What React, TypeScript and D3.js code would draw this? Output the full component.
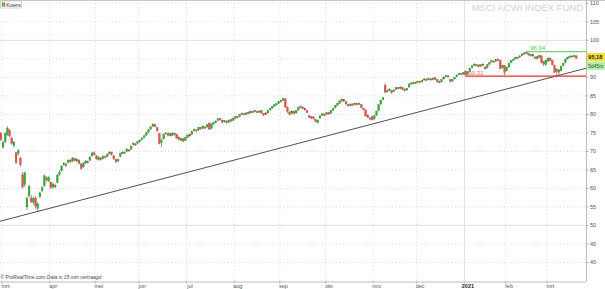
import React from 'react';
import * as d3 from 'd3';

// [open, high, low, close] per trading day, grouped by month
type Candle = [number, number, number, number];

const feb20: Candle[] = [
  [75.8, 76.2, 74.6, 75.0], [74.8, 75.2, 72.8, 73.2],
];
const mar20: Candle[] = [
  [71.2, 72.9, 70.6, 72.4], [72.6, 75.2, 72.2, 74.8], [74.5, 76.8, 74.2, 76.3], [75.6, 76.1, 73.8, 74.2],
  [73.6, 74.0, 71.8, 72.2], [71.6, 72.8, 71.0, 72.5], [69.6, 69.9, 66.6, 67.0], [69.4, 70.6, 68.8, 70.2],
  [68.2, 68.6, 65.9, 66.4], [63.6, 64.4, 59.9, 60.4], [61.0, 64.6, 60.4, 64.2], [55.0, 57.8, 54.2, 57.2],
  [58.0, 61.0, 57.4, 60.6], [57.4, 58.2, 56.0, 56.4], [56.2, 57.8, 55.6, 57.2], [57.4, 57.9, 54.6, 55.2],
  [54.6, 56.4, 53.9, 55.8], [57.8, 59.2, 57.4, 58.8], [59.4, 60.6, 59.0, 60.2], [60.8, 63.8, 60.4, 63.4],
  [62.8, 63.3, 61.9, 62.4], [62.0, 63.4, 61.7, 63.0],
];
const apr20: Candle[] = [
  [61.6, 61.9, 59.8, 60.2], [60.4, 61.6, 60.0, 61.2], [60.8, 61.3, 60.0, 60.4], [61.6, 63.9, 61.4, 63.6],
  [63.8, 64.9, 63.4, 64.4], [64.8, 66.3, 64.5, 66.0], [66.4, 67.1, 66.0, 66.8], [66.2, 66.9, 65.8, 66.6],
  [67.0, 67.9, 66.8, 67.6], [67.6, 67.9, 66.9, 67.2], [67.4, 68.5, 67.1, 68.2], [68.0, 68.3, 67.3, 67.6],
  [67.4, 68.2, 67.1, 67.9], [67.6, 67.9, 66.5, 66.8], [66.6, 66.9, 65.0, 65.4], [65.8, 67.1, 65.6, 66.8],
  [66.9, 67.7, 66.6, 67.4], [67.2, 67.6, 66.7, 67.0], [67.6, 68.7, 67.4, 68.4], [68.8, 69.9, 68.6, 69.6],
  [69.6, 70.0, 68.9, 69.2],
];
const may20: Candle[] = [
  [68.8, 69.0, 67.7, 68.0], [67.8, 68.7, 67.5, 68.4], [68.2, 68.5, 67.5, 67.8], [68.0, 68.9, 67.8, 68.6],
  [68.6, 68.9, 68.1, 68.4], [68.6, 69.5, 68.4, 69.2], [69.4, 70.1, 69.2, 69.8], [69.8, 70.0, 68.9, 69.2],
  [68.8, 69.0, 67.7, 68.0], [67.8, 68.0, 66.8, 67.2], [67.4, 68.1, 67.1, 67.8], [68.6, 69.7, 68.4, 69.4],
  [69.6, 70.1, 69.3, 69.8], [69.8, 70.0, 69.3, 69.6], [70.0, 70.9, 69.8, 70.6], [70.4, 70.7, 69.9, 70.2],
  [70.6, 71.7, 70.4, 71.4], [71.8, 72.5, 71.6, 72.2], [72.0, 72.3, 71.5, 71.8], [72.2, 72.9, 72.0, 72.6],
];
const jun20: Candle[] = [
  [72.6, 73.3, 72.4, 73.0], [73.2, 73.9, 73.0, 73.6], [73.8, 74.5, 73.6, 74.2], [74.4, 75.3, 74.2, 75.0],
  [75.2, 76.1, 75.0, 75.8], [76.0, 76.9, 75.8, 76.6], [76.8, 77.6, 76.6, 77.3], [77.2, 77.5, 76.5, 76.8],
  [76.4, 76.6, 75.3, 75.6], [74.8, 75.0, 71.9, 72.2], [72.4, 73.4, 71.2, 73.0], [73.4, 74.9, 73.2, 74.6],
  [74.8, 75.3, 74.5, 75.0], [74.8, 75.1, 74.1, 74.4], [74.2, 75.0, 74.0, 74.8], [74.9, 75.2, 74.1, 74.4],
  [74.6, 75.1, 74.3, 74.9], [74.6, 74.8, 73.3, 73.6], [73.8, 74.1, 72.9, 73.2], [73.0, 73.7, 72.7, 73.4],
  [73.4, 73.6, 72.5, 72.8], [73.0, 74.0, 72.8, 73.8],
];
const jul20: Candle[] = [
  [73.8, 74.6, 73.6, 74.4], [74.6, 74.8, 73.9, 74.2], [74.6, 75.6, 74.4, 75.4], [75.6, 76.2, 75.4, 76.0],
  [75.8, 76.0, 75.3, 75.6], [75.8, 76.6, 75.6, 76.4], [76.4, 76.6, 75.8, 76.1], [76.2, 77.0, 76.0, 76.8],
  [76.6, 76.8, 76.0, 76.3], [76.6, 77.4, 76.4, 77.2], [77.6, 77.9, 75.8, 76.0], [76.2, 77.6, 76.0, 77.4],
  [77.4, 78.0, 77.2, 77.8], [77.8, 78.4, 77.6, 78.2], [78.4, 79.0, 78.2, 78.8], [78.8, 79.0, 78.3, 78.6],
  [78.4, 78.6, 77.6, 77.9], [78.0, 78.5, 77.8, 78.3], [78.2, 78.4, 77.5, 77.8], [77.9, 78.6, 77.7, 78.4],
  [78.6, 78.8, 77.9, 78.2], [78.4, 79.2, 78.2, 79.0],
];
const aug20: Candle[] = [
  [79.0, 79.6, 78.8, 79.4], [79.4, 79.6, 78.9, 79.2], [79.4, 80.1, 79.2, 79.9], [80.0, 80.5, 79.8, 80.3],
  [80.2, 80.4, 79.7, 79.9], [80.0, 80.6, 79.8, 80.4], [80.6, 80.8, 80.0, 80.2], [80.4, 81.0, 80.2, 80.8],
  [80.8, 81.0, 80.4, 80.6], [80.7, 81.2, 80.5, 81.0], [80.8, 81.0, 80.3, 80.5], [80.6, 81.1, 80.4, 80.9],
  [81.0, 81.2, 80.2, 80.4], [80.2, 80.4, 79.6, 79.8], [80.4, 80.6, 79.8, 80.0], [80.4, 81.2, 80.2, 81.0],
  [81.2, 81.8, 81.0, 81.6], [81.7, 82.3, 81.5, 82.1], [82.2, 82.8, 82.0, 82.6], [82.6, 83.1, 82.4, 82.9],
  [83.0, 83.6, 82.8, 83.4],
];
const sep20: Candle[] = [
  [83.4, 84.0, 83.2, 83.8], [83.8, 84.5, 83.6, 84.3], [84.2, 84.4, 81.8, 82.0], [81.8, 82.2, 80.4, 80.8],
  [80.6, 80.9, 79.7, 80.0], [80.2, 81.1, 80.0, 80.9], [80.8, 81.0, 80.0, 80.3], [80.4, 81.2, 80.2, 81.0],
  [81.2, 82.1, 81.0, 81.9], [82.0, 82.4, 81.8, 82.1], [82.0, 82.2, 81.4, 81.6], [81.6, 81.8, 81.0, 81.2],
  [81.0, 81.2, 80.3, 80.5], [79.6, 79.9, 79.0, 79.2], [79.4, 79.6, 78.8, 79.0], [79.3, 79.5, 78.6, 78.9],
  [78.6, 78.8, 77.8, 78.0], [77.8, 78.6, 77.5, 78.4], [79.0, 79.8, 78.8, 79.6], [79.8, 80.4, 79.6, 80.2],
  [80.0, 80.3, 79.5, 79.8],
];
const oct20: Candle[] = [
  [80.0, 80.6, 79.8, 80.4], [80.5, 80.7, 79.9, 80.1], [80.3, 81.2, 80.1, 81.0], [81.1, 81.8, 80.9, 81.6],
  [81.8, 82.6, 81.6, 82.4], [82.5, 83.1, 82.3, 82.9], [83.0, 83.8, 82.8, 83.6], [83.6, 84.3, 83.4, 84.1],
  [84.0, 84.2, 83.4, 83.6], [83.4, 83.6, 82.6, 82.8], [82.6, 82.8, 82.1, 82.3], [82.4, 83.0, 82.2, 82.8],
  [82.8, 83.0, 82.3, 82.5], [82.6, 83.2, 82.4, 83.0], [82.9, 83.1, 82.4, 82.6], [82.7, 83.2, 82.5, 83.0],
  [82.6, 82.8, 81.6, 81.8], [81.6, 81.8, 81.1, 81.4], [81.2, 81.4, 79.4, 79.6], [79.8, 80.0, 79.0, 79.2],
  [79.0, 79.3, 78.5, 78.8], [79.4, 79.6, 78.3, 78.6],
];
const nov20: Candle[] = [
  [78.8, 79.8, 78.5, 79.6], [79.8, 81.0, 79.6, 80.8], [81.0, 82.8, 80.8, 82.6], [82.8, 84.0, 82.6, 83.8],
  [84.0, 84.7, 83.8, 84.5], [87.8, 88.4, 85.8, 86.0], [86.2, 86.7, 85.9, 86.4], [86.6, 87.1, 86.3, 86.8],
  [86.4, 86.6, 85.6, 85.9], [86.2, 86.9, 86.0, 86.6], [86.8, 87.4, 86.6, 87.2], [87.2, 87.4, 86.8, 87.0],
  [87.0, 87.6, 86.8, 87.4], [87.2, 87.4, 86.6, 86.8], [86.8, 87.0, 86.2, 86.4], [86.6, 87.2, 86.4, 87.0],
  [87.4, 88.4, 87.2, 88.2], [88.2, 88.7, 88.0, 88.5], [88.6, 88.8, 88.1, 88.3], [88.4, 88.8, 88.2, 88.6],
];
const dec20: Candle[] = [
  [88.6, 89.1, 88.4, 88.9], [88.9, 89.1, 88.5, 88.7], [88.8, 89.4, 88.6, 89.2], [89.3, 89.8, 89.1, 89.6],
  [89.5, 89.7, 89.0, 89.2], [89.4, 89.9, 89.2, 89.7], [89.6, 89.8, 89.1, 89.3], [89.4, 90.0, 89.2, 89.8],
  [89.9, 90.1, 89.3, 89.5], [89.4, 89.6, 88.6, 88.8], [88.9, 89.1, 88.4, 88.6], [88.8, 89.6, 88.6, 89.4],
  [89.6, 90.3, 89.4, 90.1], [90.2, 90.7, 90.0, 90.5], [90.4, 90.6, 90.0, 90.2], [89.4, 89.6, 88.5, 89.0],
  [89.0, 89.6, 88.8, 89.4], [89.6, 90.1, 89.4, 89.9], [90.2, 90.8, 90.0, 90.6], [90.8, 91.3, 90.6, 91.1],
  [91.0, 91.2, 90.6, 90.8], [90.9, 91.5, 90.7, 91.3],
];
const jan21: Candle[] = [
  [91.6, 91.9, 90.32, 90.7], [90.8, 91.7, 90.6, 91.5], [91.6, 92.6, 91.4, 92.4], [92.6, 93.3, 92.4, 93.1],
  [93.2, 93.8, 93.0, 93.6], [93.5, 93.7, 93.0, 93.2], [93.3, 93.5, 92.7, 92.9], [93.0, 93.6, 92.8, 93.4],
  [93.6, 93.8, 93.0, 93.2], [92.8, 93.0, 92.1, 92.3], [92.6, 93.6, 92.4, 93.4], [93.6, 94.2, 93.4, 94.0],
  [94.2, 94.7, 94.0, 94.5], [94.4, 94.6, 94.0, 94.2], [94.4, 95.0, 94.2, 94.8], [94.9, 95.1, 94.4, 94.6],
  [94.6, 94.8, 92.2, 92.4], [92.6, 93.4, 92.4, 93.2], [93.2, 93.4, 90.6, 91.4],
];
const feb21: Candle[] = [
  [91.8, 92.8, 91.6, 92.6], [92.8, 94.0, 92.6, 93.8], [94.0, 94.7, 93.8, 94.5], [94.6, 95.1, 94.4, 94.9],
  [95.0, 95.6, 94.8, 95.4], [95.4, 95.6, 95.0, 95.3], [95.5, 96.0, 95.3, 95.8], [95.9, 96.5, 95.7, 96.3],
  [96.3, 96.8, 96.1, 96.6], [96.8, 96.94, 96.3, 96.5], [96.4, 96.6, 95.8, 96.1], [95.9, 96.4, 95.6, 96.2],
  [96.2, 96.4, 95.5, 95.8], [95.2, 95.7, 94.9, 95.5], [95.6, 95.8, 94.8, 95.1], [95.4, 96.1, 95.2, 95.9],
  [95.8, 96.0, 93.8, 94.0], [94.2, 94.5, 93.0, 93.6], [93.4, 94.8, 93.2, 94.6],
];
const mar21: Candle[] = [
  [94.4, 95.4, 94.2, 95.2], [95.2, 95.4, 94.4, 94.6], [94.6, 94.8, 93.2, 93.4], [93.2, 93.5, 91.2, 91.4],
  [91.6, 92.5, 90.5, 92.2], [92.0, 92.3, 90.4, 91.4], [91.8, 93.2, 91.6, 93.0], [93.2, 94.0, 93.0, 93.8],
  [94.0, 95.1, 93.8, 94.9], [95.0, 95.6, 94.8, 95.4], [95.4, 95.9, 95.2, 95.7], [95.8, 96.0, 95.3, 95.5],
  [95.6, 96.1, 95.4, 95.9], [95.8, 96.0, 95.0, 95.18],
];

const monthBlocks = [mar20, apr20, may20, jun20, jul20, aug20, sep20, oct20, nov20, dec20, jan21, feb21, mar21];
const monthLabels = ['mrt', 'apr', 'mei', 'jun', 'jul', 'aug', 'sep', 'okt', 'nov', 'dec', '2021', 'feb', 'mrt'];
const yTicks = [40, 45, 50, 55, 60, 65, 70, 75, 80, 85, 90, 95, 100, 105, 110];
const majorY = [50, 100];
const resistance = 96.94;
const support = 90.32;
const resistanceLabel = '96.94';
const supportLabel = '90.32';
const lastPriceLabel = '95,18';
const timeLeftLabel = '5d45m';
// trend line anchors: [day index, price]
const trendAnchors: [number, number][] = [[18, 53.8], [257, 90.4]];

const W = 605;
const H = 289;
const PR = 586; // plot right
const PB = 281.5; // plot bottom
const FONT = 'Liberation Sans, Arial, sans-serif';

export default function App() {
  const candles: Candle[] = [feb20, ...monthBlocks].flat();
  const monthStart: number[] = [];
  let acc = feb20.length;
  monthBlocks.forEach((m) => { monthStart.push(acc); acc += m.length; });

  const x = d3.scaleLinear().domain([0.6, 270.5]).range([0, PR]);
  const y = d3.scaleLinear().domain([34.86, 110.5]).range([PB, 1.5]);

  const resIdx = candles.findIndex((c) => c[1] === resistance);
  const supIdx = candles.findIndex((c) => c[2] === support);

  const [[i1, v1], [i2, v2]] = trendAnchors;
  const slope = (v2 - v1) / (i2 - i1);
  const [d0, d1] = x.domain();
  const trend = d3.line<number>()
    .x((i) => x(i))
    .y((i) => y(v1 + (i - i1) * slope));

  const bw = 1.8;
  const green = '#36b436';
  const red = '#e2544c';

  const lastClose = candles[candles.length - 1][3];
  const ly = y(lastClose);

  return (
    <svg width={W} height={H} style={{ position: 'absolute', left: 0, top: 0, background: '#fff' }} fontFamily={FONT}>
      <defs>
        <clipPath id="plot"><rect x={0} y={0} width={PR} height={PB} /></clipPath>
      </defs>
      <rect x={0} y={0} width={W} height={H} fill="#fff" />
      {/* horizontal grid */}
      {yTicks.map((t) => (
        <line key={'h' + t} x1={0} x2={PR} y1={y(t)} y2={y(t)}
          stroke={majorY.includes(t) ? '#e0e0e0' : '#d2d2d2'} strokeWidth={majorY.includes(t) ? 1 : 0.8}
          strokeDasharray={majorY.includes(t) ? undefined : '1,2.5'} />
      ))}
      {/* vertical grid */}
      {monthStart.map((i, k) => (
        <line key={'v' + k} x1={x(i - 0.5)} x2={x(i - 0.5)} y1={0} y2={PB}
          stroke={monthLabels[k] === '2021' ? '#e0e0e0' : '#d2d2d2'} strokeWidth={monthLabels[k] === '2021' ? 1 : 0.8}
          strokeDasharray={monthLabels[k] === '2021' ? undefined : '1,2.5'} />
      ))}
      {/* borders */}
      <line x1={0} x2={W} y1={0.5} y2={0.5} stroke="#c8c8c8" />
      <line x1={PR + 0.5} x2={PR + 0.5} y1={0} y2={PB} stroke="#bdbdbd" />
      <line x1={0} x2={PR} y1={PB + 0.5} y2={PB + 0.5} stroke="#bdbdbd" />

      {/* title */}
      <text x={583} y={11} textAnchor="end" fontSize={9.5} fill="#d3d3d3">MSCI ACWI INDEX FUND</text>

      <g clipPath="url(#plot)">
        {/* trend line */}
        <path d={trend([d0, d1]) || ''} stroke="#505050" strokeWidth={1} fill="none" />
        {/* support / resistance */}
        <line x1={x(supIdx)} x2={PR} y1={y(support)} y2={y(support)} stroke="#e3322e" strokeWidth={1.2} />
        <line x1={x(resIdx)} x2={PR} y1={y(resistance)} y2={y(resistance)} stroke="#6fd46f" strokeWidth={1.2} />
        {/* candles */}
        {candles.map(([o, h, l, c], i) => {
          const cx = x(i);
          const top = y(Math.max(o, c));
          const bot = y(Math.min(o, c));
          const up = c >= o;
          return (
            <g key={i}>
              <line x1={cx} x2={cx} y1={y(h)} y2={y(l)} stroke="#4a4a4a" strokeWidth={0.6} />
              <rect x={cx - bw / 2} y={top} width={bw} height={Math.max(bot - top, 1)}
                fill={up ? green : red} stroke={up ? '#1f8a1f' : '#b23a33'} strokeWidth={0.3} />
            </g>
          );
        })}
        <text x={x(supIdx) + 3} y={y(support) - 1.5} fontSize={6} fill="#f06a66">{supportLabel}</text>
        <text x={x(resIdx) + 4} y={y(resistance) - 1.5} fontSize={6} fill="#55c455">{resistanceLabel}</text>
      </g>

      {/* y axis */}
      {yTicks.map((t) => (
        <g key={'yt' + t}>
          <line x1={PR} x2={PR + 2.5} y1={y(t)} y2={y(t)} stroke="#999" strokeWidth={0.7} />
          {Math.abs(y(t) - ly) > 9 && (
            <text x={PR + 4} y={y(t) + 1.9} fontSize={5.5} fill="#555">{t}</text>
          )}
        </g>
      ))}
      {/* last price box */}
      <rect x={PR + 1} y={ly - 5.2} width={W - PR - 1} height={8.4} fill="#f3e03a" />
      <text x={PR + 2.3} y={ly + 1.2} fontSize={5.6} fontWeight="bold" fill="#222">{lastPriceLabel}</text>
      <rect x={PR + 1} y={ly + 3.6} width={W - PR - 1} height={8} fill="#b4ecac" />
      <text x={PR + 2.3} y={ly + 10.2} fontSize={4.9} fill="#235a23">{timeLeftLabel}</text>

      {/* x axis labels */}
      {monthStart.map((i, k) => (
        <g key={'xl' + k}>
          <line x1={x(i - 0.5)} x2={x(i - 0.5)} y1={PB} y2={PB + 2} stroke="#999" strokeWidth={0.7} />
          <text x={x(i - 0.5) + 3.5} y={288} textAnchor="middle" fontSize={5.5}
            fontWeight={monthLabels[k] === '2021' ? 'bold' : 'normal'} fill={monthLabels[k] === '2021' ? '#222' : '#555'}>
            {monthLabels[k]}
          </text>
        </g>
      ))}

      {/* legend */}
      <rect x={0.5} y={1} width={21} height={7} fill="#fff" stroke="#bbb" strokeWidth={0.6} />
      <rect x={1.8} y={2.3} width={1.6} height={4.4} fill={green} />
      <rect x={3.6} y={2.3} width={1.6} height={4.4} fill={red} />
      <text x={6.3} y={6.8} fontSize={5.5} fill="#333">Koers</text>

      {/* footer */}
      <text x={0.5} y={279} fontSize={5} fill="#444">© ProRealTime.com  <tspan fontStyle="italic">Data is 15 min vertraagd</tspan></text>
    </svg>
  );
}
